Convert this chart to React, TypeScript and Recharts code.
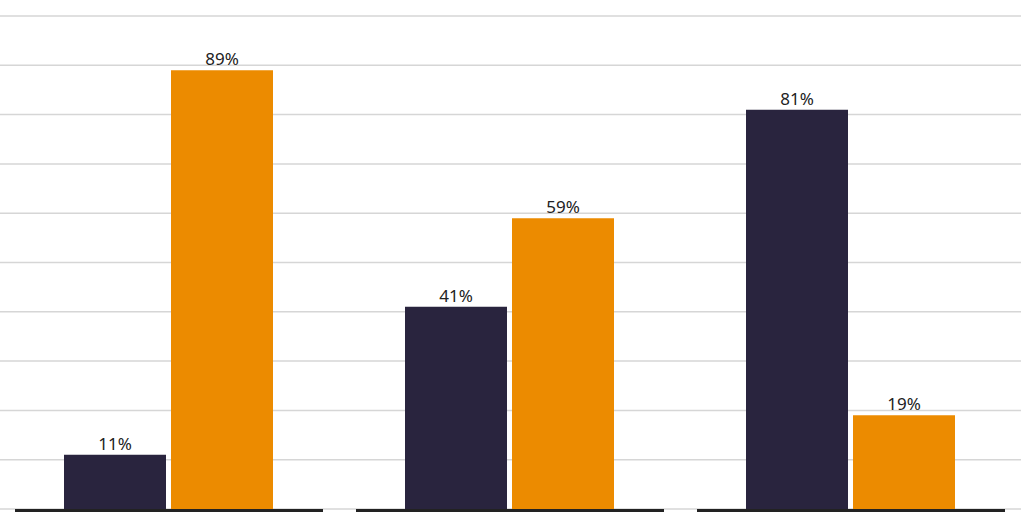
import { BarChart, Bar, XAxis, YAxis, CartesianGrid, LabelList } from 'recharts';

const CATEGORIES = ['Group A', 'Group B', 'Group C'];
const DARK_VALUES = [11, 41, 81];
const ORANGE_VALUES = [89, 59, 19];
const Y_TICKS = [0, 10, 20, 30, 40, 50, 60, 70, 80, 90, 100];

const data = CATEGORIES.map((name, i) => ({
  name,
  dark: DARK_VALUES[i],
  orange: ORANGE_VALUES[i],
}));

// baseline drawn as one segment per category, with gaps between them
const SegmentTick = (props: any) => {
  const { x, y, width } = props;
  const bw = (width || 1023) / CATEGORIES.length;
  return (
    <line
      x1={x - bw / 2 + 17}
      x2={x + bw / 2 - 16}
      y1={y + 1.5}
      y2={y + 1.5}
      stroke="#222222"
      strokeWidth={3}
    />
  );
};

const labelFmt = (v: any) => `${v}%`;

export default function App() {
  return (
    <div style={{ position: 'absolute', left: 0, top: 0, width: 1024, height: 512, background: '#fff' }}>
      <BarChart
        width={1024}
        height={512}
        data={data}
        margin={{ top: 16, right: 3, left: -2, bottom: 0 }}
        barSize={102}
        barGap={5}
      >
        <CartesianGrid vertical={false} stroke="#d6d6d6" strokeWidth={1.5} />
        <XAxis
          dataKey="name"
          height={3}
          axisLine={false}
          tickLine={false}
          tickSize={0}
          tickMargin={0}
          interval={0}
          tick={<SegmentTick />}
        />
        <YAxis hide domain={[0, 100]} ticks={Y_TICKS} />
        <Bar dataKey="dark" fill="#29243e" isAnimationActive={false}>
          <LabelList
            dataKey="dark"
            position="top"
            offset={5}
            formatter={labelFmt}
            fill="#222222"
            fontSize={17}
            fontFamily="'Noto Sans', sans-serif"
          />
        </Bar>
        <Bar dataKey="orange" fill="#ec8b00" isAnimationActive={false}>
          <LabelList
            dataKey="orange"
            position="top"
            offset={5}
            formatter={labelFmt}
            fill="#222222"
            fontSize={17}
            fontFamily="'Noto Sans', sans-serif"
          />
        </Bar>
      </BarChart>
    </div>
  );
}
